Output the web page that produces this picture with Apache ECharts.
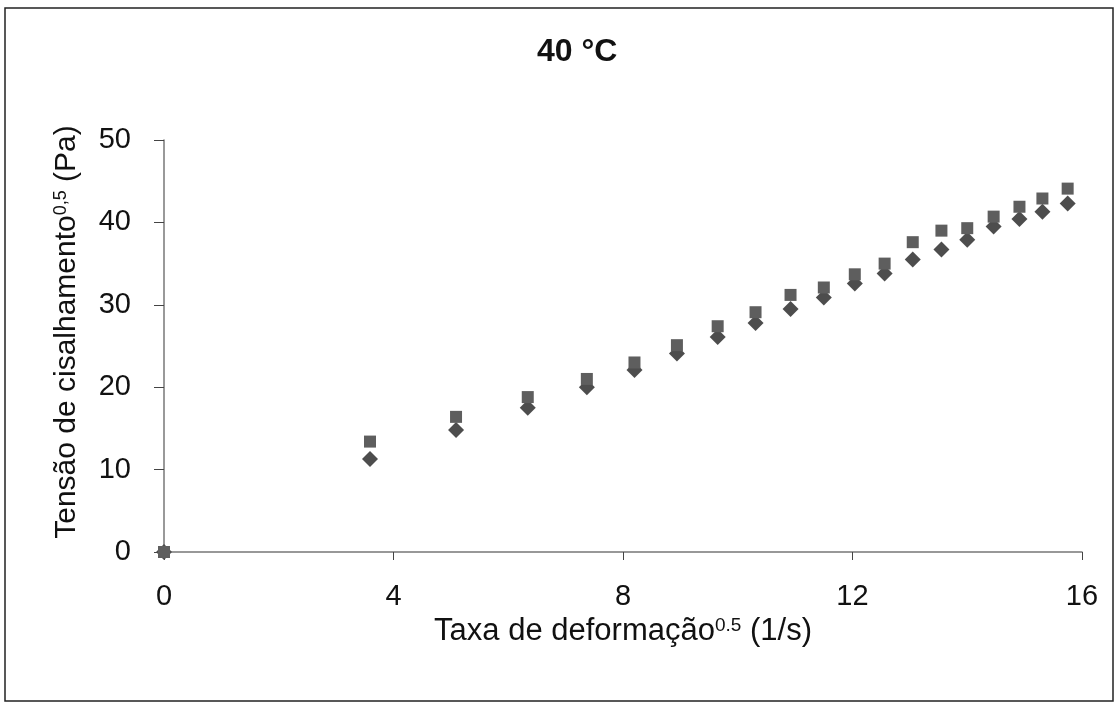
<!DOCTYPE html>
<html>
<head>
    <meta charset="UTF-8">
    <title>40 °C</title>
    <script src="https://cdn.jsdelivr.net/npm/echarts@6/dist/echarts.min.js"></script>
    <style>
        html, body { margin: 0; padding: 0; background: #fff; }
        #main { width: 1118px; height: 706px; }
    </style>
</head>
<body>
    <div id="main"></div>

    <script type="text/javascript">
        // taxa de deformação^0.5 (1/s)
        const taxa = [0, 3.59, 5.09, 6.34, 7.37, 8.20, 8.94, 9.65, 10.31, 10.92,
                      11.50, 12.04, 12.56, 13.05, 13.55, 14.00, 14.46, 14.91, 15.31, 15.75];
        // tensão^0.5 (Pa) - quadrados
        const tensaoQuad = [0, 13.4, 16.4, 18.8, 21.0, 23.0, 25.1, 27.4, 29.1, 31.2,
                            32.1, 33.7, 35.0, 37.6, 39.0, 39.3, 40.7, 41.9, 42.9, 44.1];
        // tensão^0.5 (Pa) - losangos
        const tensaoLos = [0, 11.3, 14.8, 17.5, 20.0, 22.1, 24.1, 26.1, 27.8, 29.5,
                           30.9, 32.6, 33.8, 35.5, 36.7, 37.9, 39.5, 40.4, 41.3, 42.3];

        const fonte = '"Liberation Sans", Arial, sans-serif';
        const pares = (ys) => taxa.map((x, i) => [x, ys[i]]);

        var myChart = echarts.init(document.getElementById('main'));

        var option = {
            backgroundColor: '#fff',
            animation: false,
            title: {
                text: '40 °C',
                left: 532,
                top: 31,
                textStyle: { fontFamily: fonte, fontSize: 32, fontWeight: 'bold', color: '#111' }
            },
            graphic: [{
                type: 'rect',
                shape: { x: 5, y: 8, width: 1108, height: 693 },
                style: { fill: 'none', stroke: '#222', lineWidth: 1.5 },
                silent: true
            }],
            grid: { left: 164, right: 36, top: 140, bottom: 154 },
            xAxis: {
                type: 'value',
                min: 0,
                max: 16,
                interval: 4,
                name: 'Taxa de deformação{sup|0.5} (1/s)',
                nameLocation: 'middle',
                nameGap: 64,
                nameTextStyle: {
                    fontFamily: fonte, fontSize: 31, color: '#111',
                    rich: { sup: { fontFamily: fonte, fontSize: 19, verticalAlign: 'top', color: '#111' } }
                },
                axisLine: { show: true, lineStyle: { color: '#777', width: 1.5 } },
                axisTick: { show: true, inside: false, length: 8, lineStyle: { color: '#444' } },
                axisLabel: { fontFamily: fonte, fontSize: 29, color: '#111', margin: 30 },
                splitLine: { show: false }
            },
            yAxis: {
                type: 'value',
                min: 0,
                max: 50,
                interval: 10,
                name: 'Tensão de cisalhamento{sup|0,5} (Pa)',
                nameLocation: 'middle',
                nameGap: 82,
                nameTextStyle: {
                    fontFamily: fonte, fontSize: 30, color: '#111',
                    padding: [0, 0, 0, 28],
                    rich: { sup: { fontFamily: fonte, fontSize: 18, verticalAlign: 'top', color: '#111' } }
                },
                axisLine: { show: true, lineStyle: { color: '#777', width: 1.5 } },
                axisTick: { show: true, inside: false, length: 10, lineStyle: { color: '#444' } },
                axisLabel: { fontFamily: fonte, fontSize: 29, color: '#111', margin: 33 },
                splitLine: { show: false }
            },
            series: [
                {
                    name: 'losango',
                    type: 'scatter',
                    symbol: 'diamond',
                    symbolSize: 16,
                    itemStyle: { color: '#4d4d4d', opacity: 1 },
                    data: pares(tensaoLos)
                },
                {
                    name: 'quadrado',
                    type: 'scatter',
                    symbol: 'rect',
                    symbolSize: 12,
                    itemStyle: { color: '#5e5e5e', opacity: 1 },
                    data: pares(tensaoQuad)
                }
            ]
        };

        myChart.setOption(option);
    </script>
</body>
</html>
